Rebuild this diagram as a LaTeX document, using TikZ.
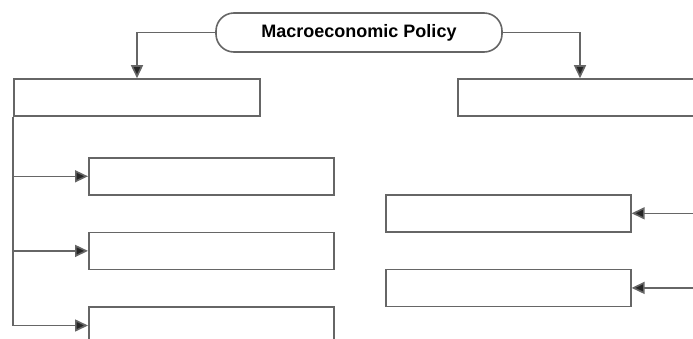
\documentclass[tikz,border=0pt]{standalone}
\usepackage{fontspec}
\setmainfont{Liberation Sans}
\usetikzlibrary{arrows.meta,positioning}

\begin{document}
\begin{tikzpicture}[x=1pt, y=-1pt, line width=1.6pt, draw=black!60,
    box/.style={rectangle, draw=black!60, minimum width=245pt, minimum height=37pt, inner sep=0pt},
    pill/.style={rectangle, draw=black!60, rounded corners=18pt, minimum width=286pt, minimum height=39pt,
                 font=\fontsize{18}{20}\selectfont\bfseries},
    arr/.style={draw=black!60, -{Triangle[length=13pt, width=12pt, fill=black!85]}}]
				\clip (0,0) rectangle (693,338);
				\node[pill] (policy) at (359,32.5) {Macroeconomic Policy};
				\node[box, minimum width=246pt] (lmain) at (137,97.5) {};
				\node[box, minimum width=244pt] (rmain) at (580,97.5) {};
				
				\node[box, anchor=north west] (lc1) at (88,157) {};
				\node[box, below=36pt of lc1] (lc2) {};
				\node[box, below=36pt of lc2] (lc3) {};
				
				\node[box, anchor=north west] (rc1) at (385,194) {};
				\node[box, below=36pt of rc1] (rc2) {};
				
				% rami dal titolo
				\draw[arr] (policy.west) -| (lmain.north);
				\draw[arr] (policy.east) -| (rmain.north);
				
				% tronco a sinistra
				\draw[arr] (lmain.south west) |- (lc3.west);
				\draw[arr] (lmain.south west |- lc1.west) -- (lc1.west);
				\draw[arr] (lmain.south west |- lc2.west) -- (lc2.west);
				
				% frecce da destra
				\coordinate (rin1) at (rc1.east -| 700,0);
				\coordinate (rin2) at (rc2.east -| 700,0);
				\draw[arr] (rin1) -- (rc1.east);
				\draw[arr] (rin2) -- (rc2.east);
			\end{tikzpicture}
\end{document}
